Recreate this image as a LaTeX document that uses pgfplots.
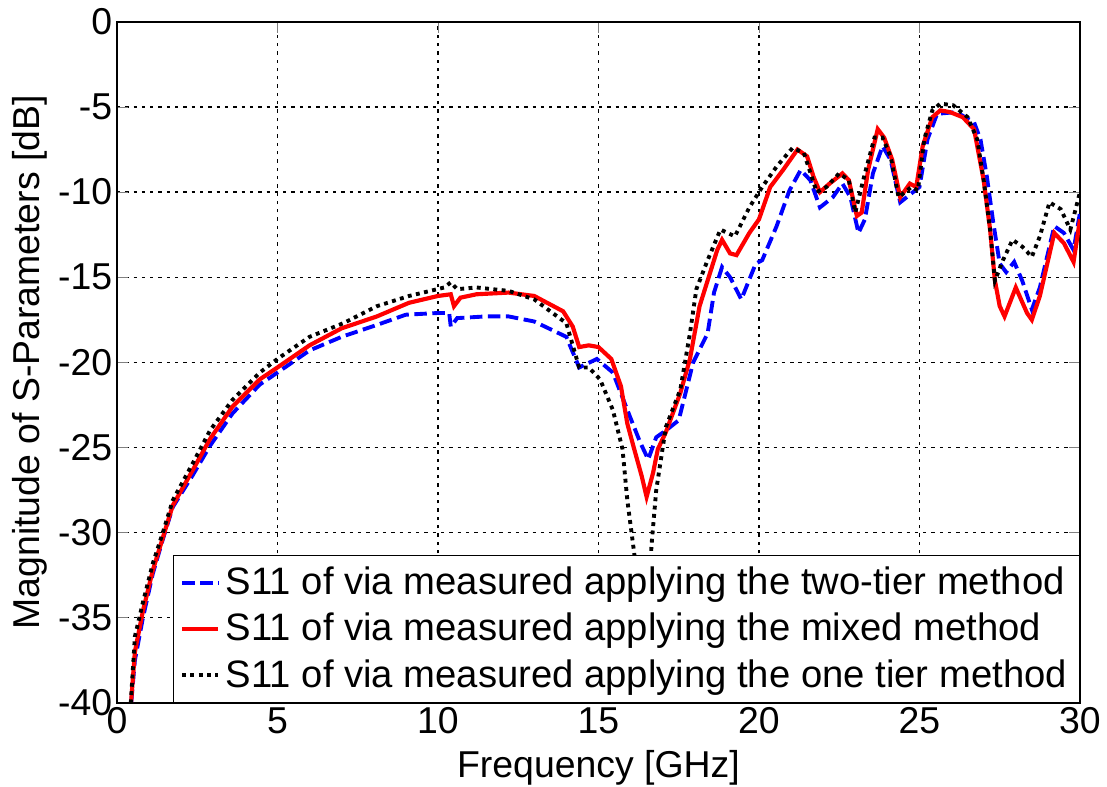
\documentclass[border=0pt]{standalone}
\usepackage{pgfplots}
\pgfplotsset{compat=1.18}
\usepackage{fontspec}
\setmainfont{Liberation Sans}
\begin{document}
\begin{tikzpicture}
\begin{axis}[name=ax,
  scale only axis, width=347.6pt, height=245.8pt,
  xmin=0, xmax=30, ymin=-40, ymax=0,
  xtick={0,5,...,30}, ytick={-40,-35,...,0},
  /pgf/number format/assume math mode=true,
  tick label style={font=\fontsize{13.5}{15}\selectfont},
  yticklabel style={anchor=east, inner xsep=1.5pt},
  xticklabel style={anchor=north, inner ysep=1.5pt},
  label style={font=\fontsize{13.5}{16}\selectfont},
  xlabel={Frequency [GHz]}, ylabel={Magnitude of S-Parameters [dB]},
  xlabel style={at={(axis description cs:0.5,-0.0956)}, anchor=center},
  ylabel style={at={(axis description cs:-0.0903,0.5)}, anchor=center},
  tick align=inside, major tick length=4pt,
  grid=major, major grid style={black, line width=0.5pt, dash pattern=on 1.2pt off 1.8pt},
  axis line style={black, line width=0.6pt},
  clip=true,
  legend style={at={(1,0)}, anchor=south east, draw=black, fill=white,
    font=\fontsize{13.8}{16}\selectfont, row sep=1.2pt, inner xsep=2.5pt, inner ysep=2pt},
  legend cell align=left,
  legend image code/.code={\draw[#1] (0cm,0cm) -- (0.46cm,0cm);},
]
\addplot[blue, line width=1.4pt, dash pattern=on 4.5pt off 2pt] coordinates {
(0.4,-41) (0.56,-37.5) (0.81,-35) (1.12,-32.4) (1.43,-30.4) (1.74,-28.5) (2.37,-26.6) (2.9,-24.9) (3.6,-23.0) (4.45,-21.3) (5.0,-20.6) (6.0,-19.3) (7.0,-18.5) (8.1,-17.8) (9.0,-17.2) (10.0,-17.1) (10.35,-17.1) (10.4,-17.9) (10.6,-17.4) (11.5,-17.3) (12.2,-17.3) (13.0,-17.6) (14.0,-18.5) (14.4,-20.3) (14.95,-19.8) (15.45,-20.6) (15.9,-22.8) (16.3,-24.7) (16.55,-25.7) (16.8,-24.4) (17.1,-24.0) (17.5,-23.4) (17.95,-20.0) (18.4,-18.3) (18.6,-15.9) (18.85,-14.4) (19.1,-15.0) (19.45,-16.3) (19.9,-14.2) (20.1,-14.0)
(20.55,-12.0) (20.95,-9.9) (21.3,-8.7) (21.6,-9.3) (21.9,-10.9) (22.3,-10.3) (22.6,-9.5) (22.85,-10.3) (23.1,-12.4) (23.3,-11.6) (23.55,-8.9) (23.85,-7.3) (24.1,-8.1) (24.4,-10.6) (24.8,-10.0) (25.0,-9.7) (25.25,-6.9) (25.55,-5.4) (26.15,-5.3) (26.7,-5.9) (26.9,-6.9) (27.1,-9.1) (27.3,-11.8) (27.5,-14.2) (27.7,-14.7) (27.95,-14.1) (28.2,-15.2) (28.5,-16.9) (28.75,-15.6) (29.2,-12.0) (29.5,-12.4) (29.8,-13.4) (30.0,-11.2)};
\addlegendentry{S11 of via measured applying the two-tier method}
\addplot[red, line width=1.5pt] coordinates {
(0.4,-41) (0.56,-37) (0.81,-34.6) (1.12,-32.2) (1.43,-30.3) (1.74,-28.4) (2.37,-26.3) (2.9,-24.5) (3.6,-22.6) (4.45,-21.0) (5.0,-20.3) (6.0,-19.0) (7.0,-18.0) (8.1,-17.3) (9.1,-16.5) (10.0,-16.1) (10.4,-16.0) (10.5,-16.7) (10.7,-16.2) (11.2,-16.0) (12.2,-15.9) (13.0,-16.1) (13.9,-17.0) (14.2,-17.9) (14.4,-19.1) (14.7,-19.0) (15.0,-19.1) (15.4,-19.8) (15.7,-21.4) (15.9,-23.6) (16.1,-25.0) (16.35,-26.7) (16.5,-27.9) (16.7,-26.5) (16.85,-25.1) (17.1,-24.1) (17.55,-21.8) (17.85,-19.8) (18.15,-16.7) (18.5,-14.6) (18.7,-13.4) (18.85,-12.8) (19.1,-13.6) (19.3,-13.7) (19.7,-12.4) (20.0,-11.6)
(20.35,-9.7) (20.75,-8.7) (21.2,-7.5) (21.5,-7.9) (21.7,-9.1) (21.9,-10.0) (22.2,-9.5) (22.6,-8.9) (22.8,-9.3) (23.05,-11.4) (23.2,-11.2) (23.4,-8.7) (23.7,-6.3) (23.9,-6.8) (24.15,-8.1) (24.4,-10.3) (24.7,-9.5) (24.9,-9.7) (25.1,-7.3) (25.4,-5.6) (25.65,-5.2) (25.95,-5.3) (26.35,-5.6) (26.7,-6.3) (27.0,-9.3) (27.2,-12.2) (27.35,-15.2) (27.5,-16.7) (27.65,-17.3) (28.0,-15.6) (28.35,-17.1) (28.5,-17.5) (28.75,-16.1) (29.2,-12.4) (29.5,-13.0) (29.8,-14.1) (30.0,-11.6)};
\addlegendentry{S11 of via measured applying the mixed method}
\addplot[black, line width=1.4pt, dash pattern=on 1.4pt off 1.6pt] coordinates {
(0.4,-41) (0.56,-36.1) (0.81,-34.1) (1.12,-31.8) (1.43,-30) (1.74,-28.1) (2.37,-25.9) (2.9,-24) (3.6,-22.2) (4.45,-20.6) (5.0,-19.8) (6.0,-18.5) (7.05,-17.7) (8.1,-16.7) (9.1,-16.1) (10.2,-15.6) (10.4,-15.3) (10.6,-15.7) (11.2,-15.6) (12.2,-15.8) (13.0,-16.3) (14.0,-17.7) (14.4,-20.3) (14.7,-20.3) (15.05,-21.0) (15.45,-22.8) (15.75,-25.1) (15.9,-28.1) (16.1,-31.0) (16.3,-34) (16.45,-35) (16.6,-33) (16.65,-30.8) (16.8,-27.5) (17.1,-23.8) (17.55,-21.6) (17.85,-18.3) (18.05,-15.7) (18.4,-14.0) (18.8,-12.2) (19.25,-12.6) (19.7,-10.9) (20.1,-9.7)
(20.55,-8.5) (21.05,-7.4) (21.4,-7.7) (21.8,-10.0) (22.1,-9.7) (22.5,-8.9) (22.8,-9.3) (23.0,-11.2) (23.3,-8.9) (23.6,-6.8) (23.85,-6.8) (24.1,-7.9) (24.35,-10.3) (24.75,-9.7) (24.95,-9.9) (25.15,-6.9) (25.4,-5.2) (25.65,-4.8) (26.05,-4.9) (26.5,-5.6) (26.8,-6.9) (27.0,-9.3) (27.2,-12.2) (27.35,-15.2) (27.6,-14.0) (27.9,-12.8) (28.2,-13.2) (28.5,-13.8) (28.75,-12.6) (29.05,-10.6) (29.4,-11.0) (29.7,-12.2) (30.0,-10.0)};
\addlegendentry{S11 of via measured applying the one tier method}
\end{axis}
\pgfresetboundingbox
\path ([shift={(-42.2pt,-30.3pt)}]ax.south west) rectangle ([shift={(9.75pt,7.9pt)}]ax.north east);
\end{tikzpicture}
\end{document}
